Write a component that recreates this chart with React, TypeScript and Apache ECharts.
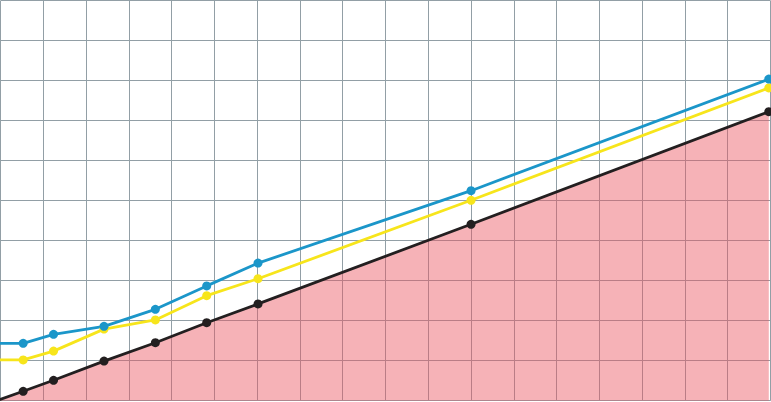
import React, { useEffect, useRef } from 'react';
import * as echarts from 'echarts';

// x positions in grid units (18 columns), y values in grid units (10 rows)
const xValues = [-1, 0.53, 1.24, 2.42, 3.62, 4.82, 6.02, 11, 17.96];
const blueValues = [1.435, 1.435, 1.66, 1.86, 2.285, 2.87, 3.44, 5.25, 8.04];
const yellowValues = [1.02, 1.02, 1.24, 1.79, 2.02, 2.625, 3.05, 5.01, 7.82];
const blackValues = [-0.35, 0.235, 0.51, 0.99, 1.45, 1.95, 2.42, 4.41, 7.225];

const toPairs = (ys: number[]) => ys.map((y, i) => [xValues[i], y]);

const App: React.FC = () => {
  const chartRef = useRef<HTMLDivElement | null>(null);

  useEffect(() => {
    document.body.style.margin = '0';
    if (!chartRef.current) return;
    const chart = echarts.init(chartRef.current, undefined, { renderer: 'svg' });
    const gridLine = { show: true, lineStyle: { color: '#929fa6', width: 1 } };
    const hiddenAxis = {
      axisLine: { show: false },
      axisTick: { show: false },
      axisLabel: { show: false },
      splitLine: gridLine,
    };
    const lineSeries = (data: number[][], color: string, extra: any = {}) => ({
      type: 'line',
      data,
      symbol: 'circle',
      symbolSize: 9,
      showSymbol: true,
      clip: true,
      lineStyle: { color, width: 2.8 },
      itemStyle: { color },
      ...extra,
    });
    chart.setOption({
      animation: false,
      grid: { left: 0.5, right: 0.5, top: 0.7, bottom: 1.3 },
      xAxis: { type: 'value', min: 0, max: 18, interval: 1, ...hiddenAxis },
      yAxis: { type: 'value', min: 0, max: 10, interval: 1, ...hiddenAxis },
      series: [
        lineSeries(toPairs(blackValues), '#231f20', {
          areaStyle: { color: 'rgba(234, 84, 96, 0.45)', opacity: 1 },
        }),
        lineSeries(toPairs(yellowValues), '#f7e51b'),
        lineSeries(toPairs(blueValues), '#1b96c9'),
      ],
    });
    return () => {
      chart.dispose();
    };
  }, []);

  return <div ref={chartRef} style={{ width: 771, height: 402 }} />;
};

export default App;
